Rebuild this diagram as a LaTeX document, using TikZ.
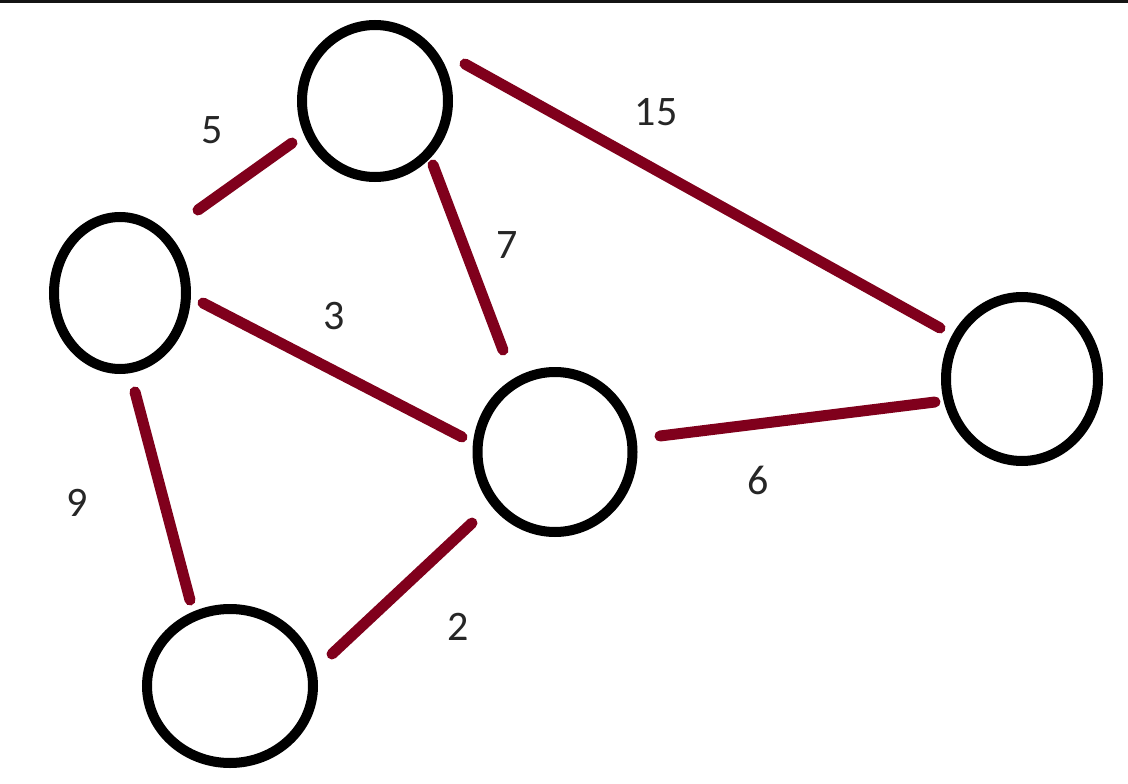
\documentclass[tikz,border=0pt]{standalone}
\usepackage{fontspec}
\setmainfont{Carlito}
\usetikzlibrary{shapes.geometric}
\definecolor{edgered}{RGB}{128,0,28}
\definecolor{lbl}{RGB}{38,38,38}
\tikzset{
  vert/.style={draw=black, line width=10pt, ellipse, inner sep=0pt},
  wedge/.style={draw=edgered, line width=11pt, line cap=round},
  wlabel/.style={text=lbl, font=\fontsize{42}{44}\selectfont, inner sep=0pt}
}
\begin{document}
\begin{tikzpicture}[x=1pt,y=-1pt]
\useasboundingbox (0,0) rectangle (1128,784);
\fill[white] (0,0) rectangle (1128,784);
\fill[black!92] (0,0) rectangle (1128,3);
% vertices
\node[vert, minimum width=146pt, minimum height=152pt] (A) at (375,101) {};
\node[vert, minimum width=132pt, minimum height=152pt] (B) at (120,293) {};
\node[vert, minimum width=155pt, minimum height=160pt] (C) at (555,452) {};
\node[vert, minimum width=166pt, minimum height=154pt] (D) at (230,686) {};
\node[vert, minimum width=152pt, minimum height=164pt] (E) at (1022,379) {};
% edge end points
\coordinate (ab1) at (198,210); \coordinate (ab2) at (292,143);
\coordinate (ae1) at (465,64);  \coordinate (ae2) at (940,328);
\coordinate (ac1) at (433,165); \coordinate (ac2) at (503,350);
\coordinate (bc1) at (203,303); \coordinate (bc2) at (462,437);
\coordinate (ce1) at (660,436); \coordinate (ce2) at (935,402);
\coordinate (bd1) at (135,392); \coordinate (bd2) at (190,600);
\coordinate (dc1) at (332,654); \coordinate (dc2) at (472,523);
\draw[wedge] (ab1) -- (ab2);
\draw[wedge] (ae1) -- (ae2);
\draw[wedge] (ac1) -- (ac2);
\draw[wedge] (bc1) -- (bc2);
\draw[wedge] (ce1) -- (ce2);
\draw[wedge] (bd1) -- (bd2);
\draw[wedge] (dc1) -- (dc2);
% labels
\node[wlabel] (l5) at (212,130) {5};
\node[wlabel] (l15) at (656,112) {15};
\node[wlabel] (l7) at (507,245) {7};
\node[wlabel] (l3) at (334,316) {3};
\node[wlabel] (l6) at (758,480) {6};
\node[wlabel] (l9) at (77,503) {9};
\node[wlabel] (l2) at (458,627) {2};
\end{tikzpicture}
\end{document}
